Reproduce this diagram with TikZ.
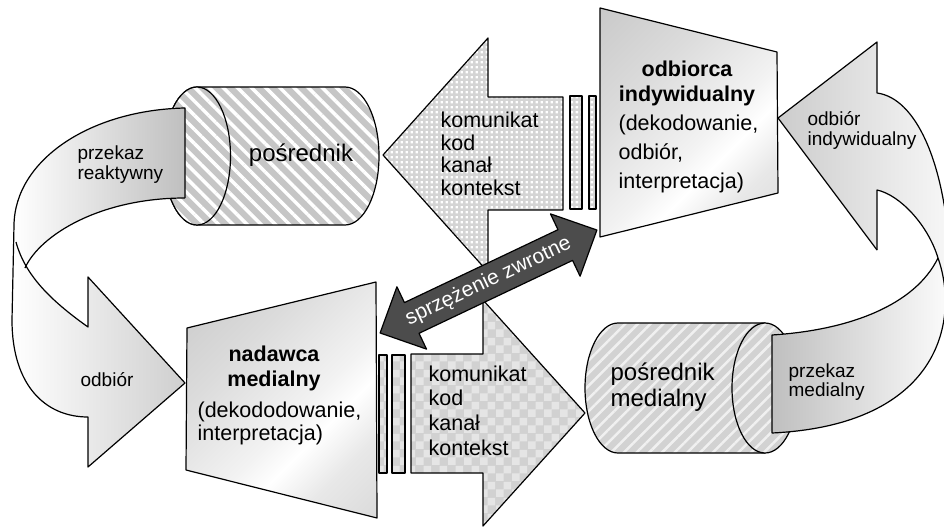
\documentclass[tikz,border=0pt]{standalone}
\usepackage{fontspec}
\setmainfont{Liberation Sans}
\usetikzlibrary{patterns.meta}

\pgfdeclarepattern{
  name=dotgrid, type=uncolored,
  bottom left={\pgfpoint{0pt}{0pt}}, top right={\pgfpoint{5pt}{5pt}},
  tile size={\pgfpoint{5pt}{5pt}},
  code={\pgfpathrectangle{\pgfpoint{0.8pt}{0.8pt}}{\pgfpoint{2.6pt}{2.6pt}}\pgfusepath{fill}}
}
\pgfdeclarepattern{
  name=softcheck, type=uncolored,
  bottom left={\pgfpoint{0pt}{0pt}}, top right={\pgfpoint{16pt}{16pt}},
  tile size={\pgfpoint{16pt}{16pt}},
  code={\pgfpathrectangle{\pgfpoint{0pt}{0pt}}{\pgfpoint{8pt}{8pt}}\pgfpathrectangle{\pgfpoint{8pt}{8pt}}{\pgfpoint{8pt}{8pt}}\pgfusepath{fill}}
}
\pgfdeclarehorizontalshading{metal}{100bp}{color(0bp)=(gray!52); color(35bp)=(gray!28); color(55bp)=(gray!10); color(62bp)=(white); color(72bp)=(gray!18); color(100bp)=(gray!40)}

\newcommand\mytab[2]{\begin{tabular}[t]{@{}#1@{}}#2\end{tabular}}

\begin{document}
\begin{tikzpicture}[x=1pt, y=-1pt, line width=1.2pt, line join=round,
  cylA/.style={draw, pattern={Lines[angle=-45,distance=10pt,line width=3.5pt]}, pattern color=white, preaction={fill=gray!45}},
  cylB/.style={draw, pattern={Lines[angle=45,distance=9pt,line width=2.5pt]}, pattern color=gray!12, preaction={fill=gray!35}},
  dotfill/.style={draw, pattern=dotgrid, pattern color=white, preaction={fill=gray!34}},
  checkfill/.style={draw, pattern=softcheck, pattern color=gray!20, preaction={fill=gray!36}},
  metalbox/.style={draw, shading=metal, shading angle=-45},
  txt/.style={inner sep=0pt},
  ribbontxt/.style={txt, font=\fontsize{19}{20}\selectfont},
  bigtxt/.style={txt, font=\fontsize{24}{26.7}\selectfont}
]
\useasboundingbox (0,0) rectangle (944,529);
\clip (0,0) rectangle (944,529);

% ---------- top cylinder: posrednik ----------
\path[cylA] (197,87) -- (345,87) arc[start angle=-90, end angle=90, x radius=34, y radius=69]
  -- (197,225) arc[start angle=90, end angle=270, x radius=33.5, y radius=69] -- cycle;
\path[cylA] (197,156) ellipse [x radius=33.5, y radius=69];
\node[txt, anchor=base, font=\fontsize{24}{26}\selectfont] (tposr) at (301,162) {pośrednik};

% ---------- left ribbon ----------
\shade[left color=white, right color=gray!38]
  (16,242) -- (14,230) -- (12,320) .. controls (12,385) and (45,417) .. (88,417) -- (88,467) -- (185,383)
  -- (88,277) -- (88,327) .. controls (50,300) and (25,275) .. (16,242) -- cycle;
\shade[left color=white, right color=gray!50]
  (185,108) .. controls (90,110) and (15,160) .. (14,225) -- (16,242) -- (25,268)
  .. controls (40,235) and (100,198) .. (185,198) -- cycle;
\draw (185,198) -- (185,108) .. controls (90,110) and (15,160) .. (14,225) -- (12,320)
  .. controls (12,385) and (45,417) .. (88,417) -- (88,467) -- (185,383) -- (88,277) -- (88,327)
  .. controls (50,300) and (25,275) .. (16,242);
\draw (185,198) .. controls (100,198) and (40,235) .. (25,268);
\node[ribbontxt, anchor=base west] (tprzre) at (77,160) {\mytab{l}{przekaz\\reaktywny}};
\node[ribbontxt, anchor=base west] (todb) at (80,386) {odbiór};

% ---------- top arrow (komunikat) ----------
\path[dotfill] (383,155) -- (488,38) -- (488,97) -- (563,97) -- (563,210) -- (488,210) -- (488,272) -- cycle;
\path[dotfill] (570,96) rectangle (582,209);
\path[dotfill] (589,96) rectangle (596,209);
\node[txt, anchor=base west, font=\fontsize{21.5}{22.5}\selectfont] (tkom1) at (440,128)
  {\mytab{l}{komunikat\\kod\\kanał\\kontekst}};

% ---------- odbiorca trapezoid ----------
\shade[metalbox] (600,8) -- (777,52) -- (778,193) -- (600,237) -- cycle;
\node[txt, anchor=base, font=\fontsize{21.5}{24.5}\selectfont\bfseries] (todbc) at (687,77)
  {\mytab{c}{odbiorca\\indywidualny}};
\node[txt, anchor=base west, font=\fontsize{21.5}{29}\selectfont] (todbc2) at (618,130.5)
  {\mytab{l}{(dekodowanie,\\odbiór,\\interpretacja)}};

% ---------- nadawca trapezoid ----------
\shade[metalbox] (187,328) -- (376,282) -- (377,518) -- (186,470) -- cycle;
\node[txt, anchor=base, font=\fontsize{21.5}{25}\selectfont\bfseries] (tnad) at (274,361.5)
  {\mytab{c}{nadawca\\medialny}};
\node[txt, anchor=base west, font=\fontsize{21.5}{23.7}\selectfont] (tnad2) at (197,417)
  {\mytab{l}{(dekododowanie,\\interpretacja)}};

% ---------- bottom arrow (komunikat) ----------
\path[checkfill] (411,354) -- (483,354) -- (483,300) -- (585,413) -- (483,526) -- (483,473) -- (411,473) -- cycle;
\path[checkfill] (379,355) rectangle (387,473);
\path[checkfill] (392,355) rectangle (405,473);
\node[txt, anchor=base west, font=\fontsize{21.5}{24.7}\selectfont] (tkom2) at (428,381)
  {\mytab{l}{komunikat\\kod\\kanał\\kontekst}};

% ---------- bottom cylinder: posrednik medialny ----------
\path[cylB] (618,323) -- (765,323) -- (765,453) -- (618,453)
  arc[start angle=90, end angle=270, x radius=33, y radius=65] -- cycle;
\path[cylB] (765,388) ellipse [x radius=33, y radius=65];
\node[bigtxt, anchor=base west] (tposrmed) at (610,380) {\mytab{l}{pośrednik\\medialny}};

% ---------- right ribbon ----------
\shade[left color=gray!40, right color=white]
  (778,118) -- (877,42) -- (877,93) .. controls (915,98) and (945,160) .. (950,260) -- (980,260) -- (980,300)
  -- (946,300) -- (938,258) .. controls (928,225) and (900,195) .. (877,190) -- (877,250) -- cycle;
\shade[left color=gray!50, right color=white]
  (772,335) .. controls (850,330) and (915,305) .. (938,258) .. controls (960,320) and (940,425) .. (772,433) -- cycle;
\draw (877,250) -- (778,118) -- (877,42) -- (877,93) .. controls (915,98) and (945,160) .. (950,260);
\draw (877,250) -- (877,190) .. controls (900,195) and (928,225) .. (938,258)
  .. controls (960,320) and (940,425) .. (772,433) -- (772,335) .. controls (850,330) and (915,305) .. (938,258);
\node[ribbontxt, anchor=base west, font=\fontsize{19}{18}\selectfont] (todbind) at (807,126) {\mytab{l}{odbiór\\indywidualny}};
\node[ribbontxt, anchor=base west, font=\fontsize{19}{19.5}\selectfont] (tprzmed) at (788,377) {\mytab{l}{przekaz\\medialny}};

% ---------- feedback arrow ----------
\begin{scope}[shift={(488.5,281.5)}, rotate=25.4]
  \path[draw=black, fill=black!70] (-120,0) -- (-85,-34.5) -- (-85,-17) -- (85,-17) -- (85,-34.5) -- (120,0)
    -- (85,34.5) -- (85,17) -- (-85,17) -- (-85,34.5) -- cycle;
  \node[txt, transform shape, text=white, font=\fontsize{21}{22}\selectfont] (tfb) at (0,0) {sprzężenie zwrotne};
\end{scope}
\end{tikzpicture}
\end{document}
